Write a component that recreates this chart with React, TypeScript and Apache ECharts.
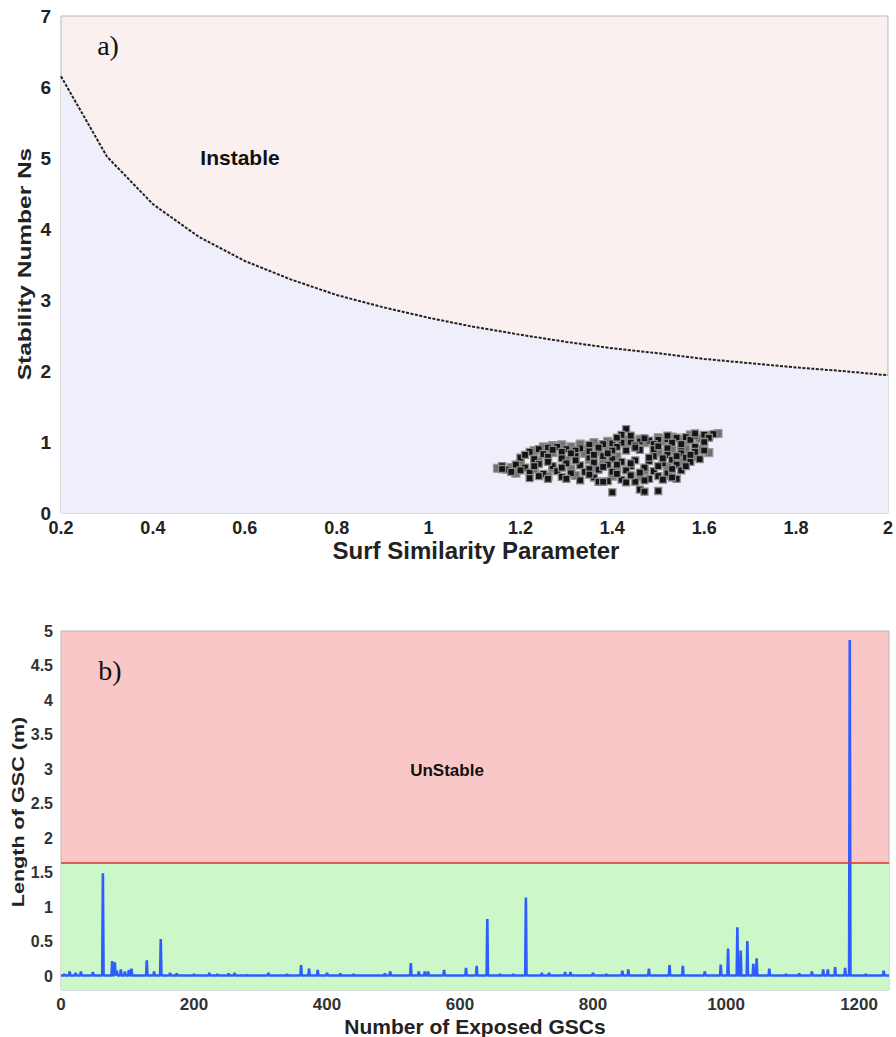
import React, { useEffect, useRef } from "react";
import * as echarts from "echarts";

// ---- Panel a) : stability diagram ----
const sspCurve = [0.2, 0.3, 0.4, 0.5, 0.6, 0.7, 0.8, 0.9, 1.0, 1.1, 1.2, 1.3, 1.4, 1.5, 1.6, 1.7, 1.8, 1.9, 2.0];
const nsLimit = [6.15, 5.02, 4.35, 3.89, 3.55, 3.29, 3.07, 2.9, 2.75, 2.62, 2.51, 2.41, 2.32, 2.25, 2.17, 2.11, 2.05, 2.0, 1.94];

// surf similarity parameter, stability number of each exposed unit (dark markers)
const armourPoints: [number, number][] = [
  [1.38, 0.97], [1.4, 0.98], [1.42, 0.99], [1.44, 1.0], [1.46, 1.01], [1.48, 1.02], [1.5, 1.03], [1.52, 1.04],
  [1.54, 1.06], [1.56, 1.07], [1.58, 1.09], [1.6, 1.1], [1.62, 1.11], [1.61, 1.06], [1.57, 1.03], [1.53, 0.99],
  [1.49, 0.97], [1.45, 0.95], [1.41, 0.93], [1.37, 0.92], [1.33, 0.91], [1.35, 0.96],
  [1.43, 1.18], [1.42, 1.1], [1.44, 1.09], [1.41, 1.06],
  [1.22, 0.86], [1.24, 0.9], [1.26, 0.92], [1.28, 0.93], [1.3, 0.9], [1.32, 0.88], [1.25, 0.83], [1.29, 0.86],
  [1.4, 0.88], [1.43, 0.88], [1.46, 0.89], [1.49, 0.9], [1.52, 0.91], [1.55, 0.92], [1.58, 0.93],
  [1.2, 0.78], [1.23, 0.76], [1.26, 0.79], [1.29, 0.77], [1.32, 0.8], [1.35, 0.78], [1.38, 0.8], [1.4, 0.76],
  [1.49, 0.8], [1.52, 0.82], [1.55, 0.84], [1.58, 0.86], [1.6, 0.88], [1.56, 0.78], [1.53, 0.75],
  [1.19, 0.68], [1.21, 0.64], [1.24, 0.69], [1.27, 0.66], [1.3, 0.7], [1.33, 0.67], [1.36, 0.71], [1.39, 0.68],
  [1.42, 0.72], [1.45, 0.74], [1.48, 0.73], [1.51, 0.7], [1.54, 0.68], [1.57, 0.72], [1.44, 0.66], [1.47, 0.64],
  [1.22, 0.57], [1.25, 0.55], [1.28, 0.59], [1.31, 0.56], [1.34, 0.58], [1.37, 0.61], [1.4, 0.58], [1.43, 0.6],
  [1.46, 0.57], [1.49, 0.59], [1.52, 0.56], [1.55, 0.6], [1.5, 0.52],
  [1.22, 0.49], [1.26, 0.48], [1.29, 0.51], [1.33, 0.46], [1.36, 0.5], [1.39, 0.45], [1.42, 0.47], [1.45, 0.44],
  [1.48, 0.48], [1.51, 0.47], [1.54, 0.48],
  [1.16, 0.66], [1.17, 0.61], [1.18, 0.58], [1.2, 0.6], [1.16, 0.62],
  [1.4, 0.29], [1.46, 0.33], [1.47, 0.3], [1.5, 0.31], [1.37, 0.44], [1.38, 0.44], [1.43, 0.43],
  [1.21, 0.82], [1.27, 0.89], [1.31, 0.84], [1.35, 0.87], [1.39, 0.84], [1.36, 0.82], [1.48, 0.78],
  [1.51, 0.77], [1.54, 0.8], [1.57, 0.82], [1.59, 0.76], [1.23, 0.66], [1.26, 0.72], [1.29, 0.64],
  [1.32, 0.74], [1.35, 0.62], [1.38, 0.65], [1.41, 0.68], [1.44, 0.7], [1.5, 0.66], [1.53, 0.62],
  [1.56, 0.66], [1.24, 0.52], [1.3, 0.48], [1.35, 0.54], [1.41, 0.55], [1.44, 0.53], [1.47, 0.46],
  [1.53, 0.5], [1.45, 0.92], [1.5, 0.94], [1.55, 0.97], [1.6, 1.0], [1.47, 1.05], [1.52, 1.09], [1.58, 1.12],
];

// units drawn in the lighter, overlapped tone
const armourPointsGrey: [number, number][] = [
  [1.23, 0.88], [1.25, 0.93], [1.27, 0.95], [1.29, 0.96], [1.31, 0.93], [1.27, 0.85], [1.34, 0.9], [1.37, 0.94],
  [1.39, 0.95], [1.43, 0.97], [1.47, 0.99], [1.51, 1.01], [1.55, 1.03], [1.59, 1.05], [1.61, 1.09], [1.63, 1.12],
  [1.57, 1.1], [1.53, 1.07], [1.5, 1.06], [1.46, 1.04], [1.43, 1.03], [1.39, 1.01], [1.36, 0.99], [1.33, 0.97],
  [1.56, 0.95], [1.59, 0.9], [1.61, 0.85], [1.58, 0.8], [1.55, 0.72], [1.52, 0.65], [1.47, 0.6], [1.41, 0.62],
  [1.36, 0.64], [1.31, 0.62], [1.27, 0.62], [1.23, 0.62], [1.2, 0.7], [1.24, 0.73], [1.3, 0.74], [1.35, 0.75],
  [1.38, 0.73], [1.41, 0.8], [1.5, 0.85], [1.53, 0.88], [1.56, 0.9], [1.18, 0.64], [1.15, 0.63], [1.19, 0.56],
  [1.26, 0.52], [1.32, 0.53], [1.4, 0.52], [1.46, 0.51], [1.52, 0.53], [1.34, 0.84], [1.37, 0.86],
];

// ---- Panel b) : length of exposed GSCs ----
const gscCount = 1245;
const gscBaseline = 0.01;
const stableLimit = 1.65;
// [GSC number, length (m)] wherever the trace lifts off the baseline
const gscSpikes: [number, number][] = [
  [5, 0.03], [13, 0.07], [22, 0.05], [30, 0.07], [48, 0.06], [63, 1.49], [77, 0.22], [81, 0.2], [84, 0.08],
  [90, 0.1], [96, 0.07], [102, 0.09], [106, 0.11], [129, 0.23], [140, 0.07], [150, 0.54], [164, 0.05],
  [174, 0.04], [200, 0.03], [223, 0.05], [235, 0.03], [252, 0.04], [261, 0.05], [280, 0.02], [312, 0.05],
  [340, 0.03], [361, 0.16], [373, 0.11], [386, 0.09], [400, 0.05], [420, 0.04], [440, 0.03], [487, 0.04],
  [495, 0.07], [526, 0.19], [538, 0.07], [547, 0.07], [552, 0.07], [576, 0.09], [609, 0.12], [625, 0.15],
  [641, 0.83], [660, 0.03], [680, 0.03], [699, 1.14], [723, 0.05], [734, 0.05], [758, 0.06], [766, 0.06],
  [800, 0.05], [820, 0.03], [844, 0.08], [853, 0.1], [884, 0.11], [915, 0.16], [935, 0.15], [968, 0.07],
  [992, 0.17], [1003, 0.4], [1017, 0.71], [1022, 0.37], [1032, 0.51], [1041, 0.18], [1046, 0.26],
  [1065, 0.11], [1090, 0.03], [1110, 0.04], [1129, 0.07], [1146, 0.1], [1153, 0.1], [1164, 0.13],
  [1179, 0.12], [1186, 4.87], [1210, 0.03], [1237, 0.08],
];

const SANS = '"Liberation Sans", Arial, sans-serif';
const SERIF = '"Liberation Serif", "DejaVu Serif", serif';

function buildTrace(): [number, number][] {
  const pts: [number, number][] = [[0, gscBaseline]];
  for (const [i, v] of gscSpikes) {
    pts.push([i - 1, gscBaseline], [i, v], [i + 1, gscBaseline]);
  }
  pts.push([gscCount, gscBaseline]);
  return pts;
}

const fmt1 = (v: number) => String(Math.round(v * 10) / 10);

export default function App() {
  const ref = useRef<HTMLDivElement>(null);

  useEffect(() => {
    if (!ref.current) return;
    const chart = echarts.init(ref.current, undefined, { renderer: "svg" });
    const trace = buildTrace();

    chart.setOption({
      animation: false,
      backgroundColor: "#ffffff",
      grid: [
        {
          left: 61, top: 16, width: 828, height: 497,
          show: true, backgroundColor: "#faf0ef", borderColor: "#b8b8b8", borderWidth: 1,
        },
        {
          left: 61, top: 631, width: 828, height: 359,
          show: true, backgroundColor: "#f9c7c7", borderColor: "#b8b8b8", borderWidth: 1,
        },
      ],
      xAxis: [
        {
          gridIndex: 0, type: "value", min: 0.2, max: 2, interval: 0.2,
          axisLine: { show: false }, axisTick: { show: false }, splitLine: { show: false },
          axisLabel: {
            margin: 6, fontFamily: SANS, fontWeight: "bold", fontSize: 18, color: "#222",
            formatter: (v: number) => fmt1(v),
          },
        },
        {
          gridIndex: 1, type: "value", min: 0, max: gscCount, interval: 200,
          axisLine: { show: false }, axisTick: { show: false }, splitLine: { show: false },
          axisLabel: {
            margin: 6, fontFamily: SANS, fontWeight: "bold", fontSize: 17, color: "#333",
            showMaxLabel: false,
            formatter: (v: number) => (Math.abs(v % 200) < 1e-6 ? String(v) : ""),
          },
        },
      ],
      yAxis: [
        {
          gridIndex: 0, type: "value", min: 0, max: 7, interval: 1,
          axisLine: { show: false }, axisTick: { show: false }, splitLine: { show: false },
          axisLabel: { margin: 10, fontFamily: SANS, fontWeight: "bold", fontSize: 19, color: "#222" },
        },
        {
          gridIndex: 1, type: "value", min: -0.2, max: 5, interval: 0.1,
          axisLine: { show: false }, axisTick: { show: false }, splitLine: { show: false },
          axisLabel: {
            margin: 8, fontFamily: SANS, fontWeight: "bold", fontSize: 16, color: "#333",
            formatter: (v: number) => {
              const h = v * 2;
              return Math.abs(h - Math.round(h)) < 1e-6 && v > -0.05 ? fmt1(v) : "";
            },
          },
        },
      ],
      series: [
        {
          name: "limit",
          type: "line",
          xAxisIndex: 0, yAxisIndex: 0,
          data: sspCurve.map((x, i) => [x, nsLimit[i]]),
          symbol: "none",
          lineStyle: { color: "#222", width: 2, type: [3, 1.5] },
          areaStyle: { color: "#eeeffa", opacity: 1, origin: "start" },
          z: 2,
        },
        {
          name: "units-grey",
          type: "scatter",
          xAxisIndex: 0, yAxisIndex: 0,
          data: armourPointsGrey,
          symbol: "rect",
          symbolSize: 8,
          itemStyle: { color: "#707070", borderColor: "#9a9a9a", borderWidth: 1.2, opacity: 1 },
          z: 3,
        },
        {
          name: "units",
          type: "scatter",
          xAxisIndex: 0, yAxisIndex: 0,
          data: armourPoints,
          symbol: "rect",
          symbolSize: 7,
          itemStyle: { color: "#141414", borderColor: "#8a8a8a", borderWidth: 1.3, opacity: 1 },
          z: 4,
        },
        {
          name: "zones",
          type: "line",
          xAxisIndex: 1, yAxisIndex: 1,
          data: [],
          z: 1,
          silent: true,
          markArea: {
            silent: true,
            itemStyle: { color: "#cbf7c9", opacity: 1 },
            data: [[{ yAxis: -0.2 }, { yAxis: stableLimit }]],
          },
          markLine: {
            silent: true,
            symbol: "none",
            label: { show: false },
            lineStyle: { color: "#e62a2a", width: 1.6, type: "solid" },
            data: [{ yAxis: stableLimit }],
          },
        },
        {
          name: "length",
          type: "line",
          xAxisIndex: 1, yAxisIndex: 1,
          data: trace,
          symbol: "none",
          lineStyle: { color: "#2d5cff", width: 2.6 },
          z: 4,
        },
      ],
      graphic: [
        {
          type: "text", x: 108, y: 45,
          style: { text: "a)", font: `28px ${SERIF}`, fill: "#111", textAlign: "center", textVerticalAlign: "middle" },
        },
        {
          type: "text", x: 240, y: 157,
          style: { text: "Instable", font: `bold 21px ${SANS}`, fill: "#111", textAlign: "center", textVerticalAlign: "middle" },
        },
        {
          type: "text", x: 232, y: 440,
          style: { text: "Stable", font: `bold 21px ${SANS}`, fill: "#111", textAlign: "center", textVerticalAlign: "middle" },
        },
        {
          type: "text", x: 476, y: 550,
          style: { text: "Surf Similarity Parameter", font: `bold 24px ${SANS}`, fill: "#222", textAlign: "center", textVerticalAlign: "middle" },
        },
        {
          type: "text", x: 25, y: 264, rotation: Math.PI / 2, scaleX: 1.36,
          style: { text: "Stability Number Ns", font: `bold 18px ${SANS}`, fill: "#222", textAlign: "center", textVerticalAlign: "middle" },
        },
        {
          type: "text", x: 110, y: 670,
          style: { text: "b)", font: `28px ${SERIF}`, fill: "#111", textAlign: "center", textVerticalAlign: "middle" },
        },
        {
          type: "text", x: 447, y: 770,
          style: { text: "UnStable", font: `bold 17px ${SANS}`, fill: "#111", textAlign: "center", textVerticalAlign: "middle" },
        },
        {
          type: "text", x: 421, y: 920,
          style: { text: "Stable", font: `bold 17px ${SANS}`, fill: "#111", textAlign: "center", textVerticalAlign: "middle" },
        },
        {
          type: "text", x: 475, y: 1026,
          style: { text: "Number of Exposed GSCs", font: `bold 21px ${SANS}`, fill: "#222", textAlign: "center", textVerticalAlign: "middle" },
        },
        {
          type: "text", x: 18, y: 812, rotation: Math.PI / 2, scaleX: 1.27,
          style: { text: "Length of GSC (m)", font: `bold 17px ${SANS}`, fill: "#222", textAlign: "center", textVerticalAlign: "middle" },
        },
      ],
    });

    return () => chart.dispose();
  }, []);

  return (
    <div
      ref={ref}
      style={{ position: "absolute", left: 0, top: 0, width: 896, height: 1037 }}
    />
  );
}
